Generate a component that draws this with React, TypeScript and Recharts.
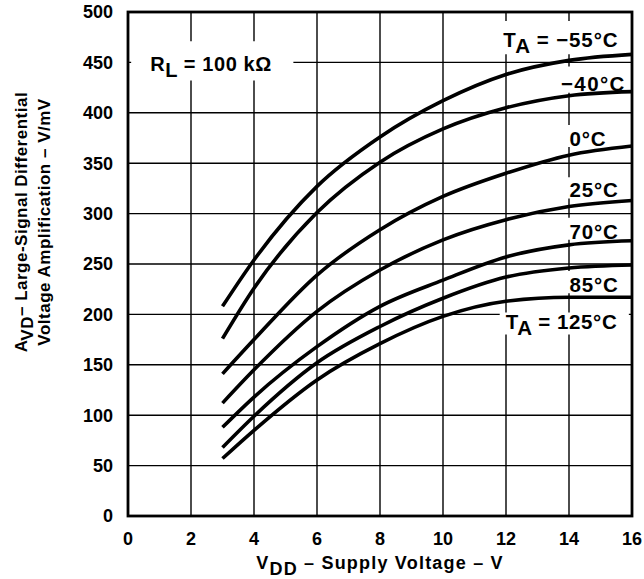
import React from 'react';
import { LineChart, Line, XAxis, YAxis, ReferenceArea } from 'recharts';

// supply voltage (V) and large-signal gain (V/mV) per ambient temperature
const vdd = [3, 4, 6, 8, 10, 12, 14, 16];
const gainM55 = [208, 254, 327, 376, 412, 438, 452, 458];
const gainM40 = [176, 226, 301, 351, 384, 405, 417, 421];
const gain0 = [141, 175, 239, 284, 317, 340, 358, 367];
const gain25 = [112, 145, 203, 244, 274, 294, 307, 313];
const gain70 = [88, 118, 168, 208, 234, 257, 269, 273];
const gain85 = [68, 99, 152, 188, 216, 237, 246, 249];
const gain125 = [57, 85, 135, 171, 198, 213, 217, 217];

const xTicks = [0, 2, 4, 6, 8, 10, 12, 14, 16];
const yTicks = [0, 50, 100, 150, 200, 250, 300, 350, 400, 450, 500];

const seriesKeys = ['m55', 'm40', 't0', 't25', 't70', 't85', 't125'];

const rows = vdd.map((v, i) => ({
  v,
  m55: gainM55[i],
  m40: gainM40[i],
  t0: gain0[i],
  t25: gain25[i],
  t70: gain70[i],
  t85: gain85[i],
  t125: gain125[i],
}));

const FONT = '"Liberation Sans", Arial, Helvetica, sans-serif';

// layout
const W = 644;
const H = 579;
const M_TOP = 12;
const M_RIGHT = 12;
const Y_AXIS_W = 128;
const X_AXIS_H = 63;
const PLOT_TOP = M_TOP;
const PLOT_BOTTOM = H - X_AXIS_H;
const PLOT_LEFT = Y_AXIS_W;
const PLOT_RIGHT = W - M_RIGHT;
const X_MAX = xTicks[xTicks.length - 1];
const Y_MAX = yTicks[yTicks.length - 1];

const sx = (v: number) => PLOT_LEFT + (v / X_MAX) * (PLOT_RIGHT - PLOT_LEFT);
const sy = (v: number) => PLOT_BOTTOM - (v / Y_MAX) * (PLOT_BOTTOM - PLOT_TOP);

type Part = { t: string; sub?: boolean };

// white boxes behind the in-plot labels (data coords), text offset in px from box left / bottom
const notes: { x1: number; x2: number; y1: number; y2: number; dx: number; by: number; fs: number; ls: number; parts: Part[] }[] = [
  { x1: 0.1, x2: 5.25, y1: 432, y2: 471, dx: 19, by: 10, fs: 20, ls: 0.6, parts: [{ t: 'R' }, { t: 'L', sub: true }, { t: ' = 100 k\u03A9' }] },
  { x1: 11.85, x2: 15.85, y1: 458, y2: 491, dx: 2, by: 7, fs: 20.5, ls: 0.9, parts: [{ t: 'T' }, { t: 'A', sub: true }, { t: ' = \u221255\u00B0C' }] },
  { x1: 13.65, x2: 15.85, y1: 420, y2: 446, dx: 3, by: 2, fs: 20.5, ls: 1.4, parts: [{ t: '\u221240\u00B0C' }] },
  { x1: 13.95, x2: 15.3, y1: 366, y2: 388, dx: 2, by: 1, fs: 20.5, ls: 0.9, parts: [{ t: '0\u00B0C' }] },
  { x1: 13.95, x2: 15.7, y1: 315, y2: 336, dx: 2, by: 1, fs: 20.5, ls: 0.9, parts: [{ t: '25\u00B0C' }] },
  { x1: 13.95, x2: 15.7, y1: 274, y2: 296, dx: 2, by: 1, fs: 20.5, ls: 0.9, parts: [{ t: '70\u00B0C' }] },
  { x1: 13.95, x2: 15.7, y1: 221, y2: 243, dx: 2, by: 1, fs: 20.5, ls: 0.9, parts: [{ t: '85\u00B0C' }] },
  { x1: 11.8, x2: 15.9, y1: 180, y2: 202, dx: 6, by: 6, fs: 20.5, ls: 0.6, parts: [{ t: 'T' }, { t: 'A', sub: true }, { t: ' = 125\u00B0C' }] },
];

function renderParts(parts: Part[]) {
  let shift = 0;
  return parts.map((p, i) => {
    const target = p.sub ? 6 : 0;
    const dy = target - shift;
    shift = target;
    return (
      <tspan key={i} dy={dy}>
        {p.t}
      </tspan>
    );
  });
}

// label draws its own white box so it hides the grid behind it
function noteLabel(n: (typeof notes)[number]) {
  return (props: any) => {
    const vb = props.viewBox || {};
    return (
      <g>
        <path d={`M${vb.x},${vb.y}h${vb.width}v${vb.height}h${-vb.width}Z`} fill="#fff" stroke="none" />
        <text
          x={vb.x + n.dx}
          y={vb.y + vb.height - n.by}
          fontFamily={FONT}
          fontWeight="bold"
          fontSize={n.fs}
          letterSpacing={n.ls}
          fill="#000"
        >
          {renderParts(n.parts)}
        </text>
      </g>
    );
  };
}

// grid and frame, drawn underneath the chart svg
function GridLayer() {
  return (
    <svg width={W} height={H} style={{ position: 'absolute', left: 0, top: 0 }}>
      <rect x={0} y={0} width={W} height={H} fill="#fff" />
      {xTicks.map((t) => (
        <path key={'x' + t} d={`M${sx(t)},${PLOT_TOP}V${PLOT_BOTTOM}`} stroke="#000" strokeWidth={1.4} fill="none" />
      ))}
      {yTicks.map((t) => (
        <path key={'y' + t} d={`M${PLOT_LEFT},${sy(t)}H${PLOT_RIGHT}`} stroke="#000" strokeWidth={1.4} fill="none" />
      ))}
      <rect
        x={PLOT_LEFT}
        y={PLOT_TOP}
        width={PLOT_RIGHT - PLOT_LEFT}
        height={PLOT_BOTTOM - PLOT_TOP}
        fill="none"
        stroke="#000"
        strokeWidth={2.8}
      />
    </svg>
  );
}

function XTitle(props: any) {
  const vb = props.viewBox || {};
  return (
    <text
      x={vb.x + vb.width / 2}
      y={569}
      textAnchor="middle"
      fontFamily={FONT}
      fontWeight="bold"
      fontSize={18}
      letterSpacing={1.2}
      fill="#000"
    >
      {renderParts([{ t: 'V' }, { t: 'DD', sub: true }, { t: ' \u2013 Supply Voltage \u2013 V' }])}
    </text>
  );
}

function YTitle() {
  return (
    <g fontFamily={FONT} fontWeight="bold" fontSize={17} letterSpacing={0.5} fill="#000">
      <text x={27} y={222} textAnchor="middle" transform="rotate(-90 27 222)">
        {renderParts([{ t: 'A' }, { t: 'VD', sub: true }, { t: '\u2013 Large-Signal Differential' }])}
      </text>
      <text x={50} y={222} textAnchor="middle" transform="rotate(-90 50 222)">
        Voltage Amplification {'\u2013'} V/mV
      </text>
    </g>
  );
}

const tickStyle = { fill: '#000', fontFamily: FONT, fontWeight: 'bold', fontSize: 18 } as any;

export default function App() {
  return (
    <div style={{ position: 'absolute', left: 0, top: 0, width: W, height: H }}>
      <GridLayer />
      <div style={{ position: 'absolute', left: 0, top: 0 }}>
        <LineChart width={W} height={H} data={rows} margin={{ top: M_TOP, right: M_RIGHT, bottom: 0, left: 0 }}>
          <XAxis
            dataKey="v"
            type="number"
            domain={[0, X_MAX]}
            ticks={xTicks}
            height={X_AXIS_H}
            axisLine={false}
            tickLine={false}
            tickMargin={10}
            tick={tickStyle}
            label={<XTitle />}
          />
          <YAxis
            type="number"
            domain={[0, Y_MAX]}
            ticks={yTicks}
            width={Y_AXIS_W}
            axisLine={false}
            tickLine={false}
            tickMargin={9}
            tick={tickStyle}
            label={<YTitle />}
          />
          {notes.map((n, i) => (
            <ReferenceArea
              key={i}
              x1={n.x1}
              x2={n.x2}
              y1={n.y1}
              y2={n.y2}
              fill="#fff"
              fillOpacity={0}
              stroke="none"
              label={noteLabel(n)}
            />
          ))}
          {seriesKeys.map((k) => (
            <Line
              key={k}
              dataKey={k}
              type="monotone"
              stroke="#000"
              strokeWidth={3.6}
              dot={false}
              activeDot={false}
              isAnimationActive={false}
            />
          ))}
        </LineChart>
      </div>
    </div>
  );
}
